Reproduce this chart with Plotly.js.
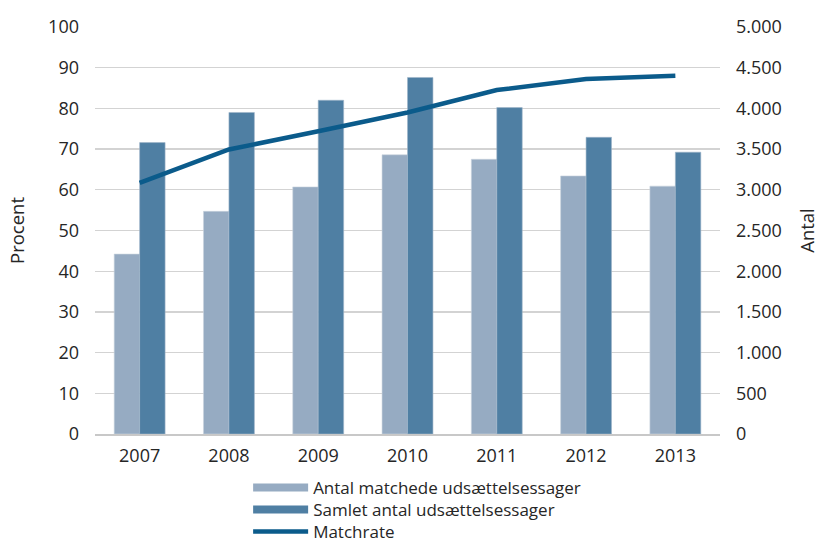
<!DOCTYPE html>
<html>
<head>
<meta charset="utf-8">
<script src="https://cdn.plot.ly/plotly-3.0.1.min.js"></script>
<style>html,body{margin:0;padding:0;background:#fff;}#chart{width:819px;height:543px;}</style>
</head>
<body>
<div id="chart"></div>
<script>
const years = ['2007', '2008', '2009', '2010', '2011', '2012', '2013'];
const matchede = [2210, 2735, 3035, 3430, 3375, 3170, 3045];
const samlet = [3580, 3950, 4100, 4380, 4010, 3645, 3462];
const matchrate = [61.7, 69.9, 74.4, 79.0, 84.5, 87.2, 88.0];

const nameMatchede = 'Antal matchede udsættelsessager';
const nameSamlet = 'Samlet antal udsættelsessager';
const nameRate = 'Matchrate';

const cLight = '#96abc2';
const cDark = '#4f7fa3';
const cLine = '#0b5b8b';
const font = '"Open Sans", Roboto, "Liberation Sans", sans-serif';
const legFont = {family: font, size: 17, color: '#262626'};

const traces = [
  {type: 'bar', x: years, y: matchede, yaxis: 'y', name: nameMatchede, legendgroup: 'a', showlegend: false,
   marker: {color: cLight, line: {color: '#c9d3de', width: 0.6}}, hoverinfo: 'y'},
  {type: 'bar', x: years, y: samlet, yaxis: 'y', name: nameSamlet, legendgroup: 'b', showlegend: false,
   marker: {color: cDark, line: {color: '#9fb5c9', width: 0.6}}, hoverinfo: 'y'},
  {type: 'scatter', mode: 'lines', x: [null], y: [null], yaxis: 'y', name: nameMatchede, legendgroup: 'a',
   legend: 'legend', line: {color: cLight, width: 8}, hoverinfo: 'skip'},
  {type: 'scatter', mode: 'lines', x: [null], y: [null], yaxis: 'y', name: nameSamlet, legendgroup: 'b',
   legend: 'legend2', line: {color: cDark, width: 8}, hoverinfo: 'skip'},
  {type: 'scatter', mode: 'lines', x: years, y: matchrate, yaxis: 'y2', name: nameRate,
   legend: 'legend3', line: {color: cLine, width: 4.5}}
];

function leg(y) {
  return {orientation: 'v', x: 0.245, xanchor: 'left', y: y, yanchor: 'middle',
          font: legFont, itemwidth: 55, bgcolor: 'rgba(0,0,0,0)'};
}

const layout = {
  width: 819, height: 543,
  margin: {l: 95, r: 99, t: 27, b: 109, autoexpand: false},
  paper_bgcolor: '#fff', plot_bgcolor: '#fff',
  separators: ',.',
  font: {family: font, size: 18, color: '#262626'},
  barmode: 'group', bargap: 0.43, bargroupgap: 0,
  showlegend: true,
  legend: leg(-0.1327),
  legend2: leg(-0.1867),
  legend3: leg(-0.2408),
  xaxis: {type: 'category', showgrid: false, showline: true, linecolor: '#c8c8c8', linewidth: 1.5,
          ticks: '', tickfont: {size: 18}, ticklabelstandoff: 5, fixedrange: true},
  yaxis: {range: [0, 5000], dtick: 500, side: 'right', showgrid: true, gridcolor: '#d3d3d3', gridwidth: 1.3,
          zeroline: false, ticks: '', tickformat: ',d', separatethousands: true,
          tickfont: {size: 18}, ticklabelstandoff: 15,
          title: {text: 'Antal', font: {size: 18.5}, standoff: 24}},
  yaxis2: {range: [0, 100], dtick: 10, overlaying: 'y', side: 'left', showgrid: false,
           zeroline: false, ticks: '', tickfont: {size: 18}, ticklabelstandoff: 15,
           title: {text: 'Procent', font: {size: 18.5}, standoff: 18}}
};

Plotly.newPlot('chart', traces, layout, {displayModeBar: false, staticPlot: true});
</script>
</body>
</html>
